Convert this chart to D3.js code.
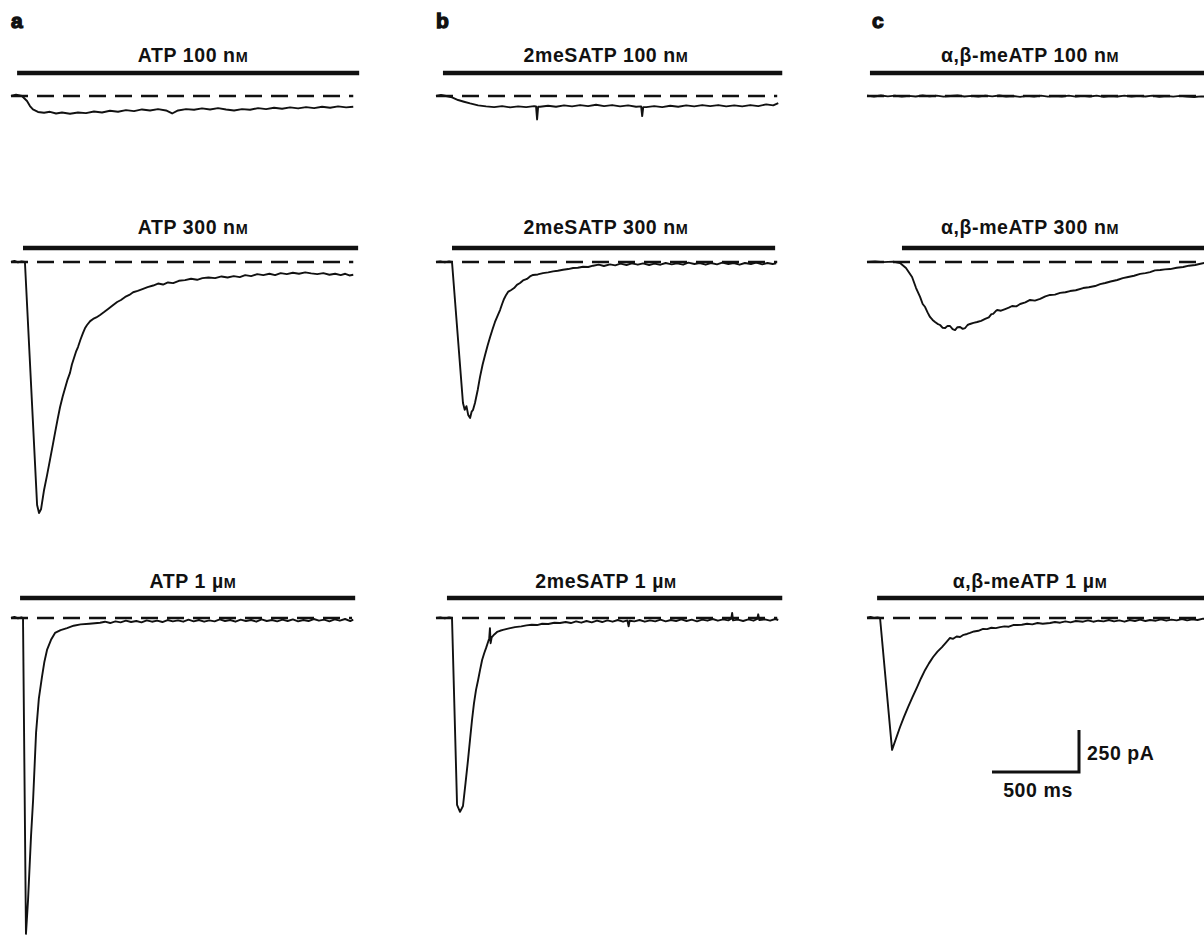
<!DOCTYPE html>
<html>
<head>
<meta charset="utf-8">
<script src="https://cdn.jsdelivr.net/npm/d3@7"></script>
<style>
  body { margin: 0; background: #fff; }
  svg { display: block; }
  .lbl { font-family: "Liberation Sans", Arial, sans-serif; font-weight: bold; font-size: 19.5px; letter-spacing: 0.6px; fill: #111; }
  .letter { font-family: "Liberation Sans", Arial, sans-serif; font-weight: bold; font-size: 21px; fill: #111; stroke: #111; stroke-width: 1.3px; }
  .trace { fill: none; stroke: #111; stroke-width: 1.9; stroke-linejoin: round; }
  .appl { stroke: #111; stroke-width: 4.6; }
  .base { stroke: #111; stroke-width: 2.6; stroke-dasharray: 17 9; }
  .sbar { stroke: #111; stroke-width: 3; fill: none; }
</style>
</head>
<body>
<svg id="fig" width="1204" height="936"></svg>
<script>
// current traces: [time ms, current pA], inward current negative
var atp100 = [[0,0],[29,8],[63,0],[92,-30],[109,-60],[126,-80],[155,-95],[190,-100],[224,-94],[259,-104],[293,-98],[339,-106],[385,-98],[431,-102],[477,-92],[523,-98],[569,-88],[615,-94],[661,-84],[707,-90],[753,-80],[799,-86],[845,-78],[891,-86],[926,-104],[960,-86],[1006,-78],[1052,-82],[1098,-74],[1144,-80],[1190,-72],[1236,-80],[1282,-86],[1328,-78],[1374,-82],[1420,-72],[1466,-78],[1512,-70],[1558,-76],[1604,-68],[1650,-74],[1696,-66],[1742,-72],[1788,-64],[1834,-70],[1880,-62],[1926,-68],[1967,-64]];
var atp300 = [[0,0],[20,6],[40,-2],[60,4],[80,0],[150,-1446],[161,-1494],[173,-1470],[190,-1357],[207,-1270],[224,-1178],[240,-1090],[253,-1017],[268,-935],[282,-863],[297,-800],[311,-750],[325,-700],[339,-660],[350,-610],[362,-571],[375,-530],[385,-506],[400,-460],[414,-422],[425,-395],[437,-375],[455,-352],[472,-339],[490,-330],[512,-315],[535,-298],[558,-280],[580,-262],[610,-238],[632,-226],[656,-208],[680,-196],[702,-180],[728,-172],[759,-160],[785,-150],[817,-140],[845,-128],[874,-134],[902,-122],[932,-126],[965,-112],[1000,-108],[1035,-100],[1070,-106],[1100,-96],[1135,-92],[1173,-96],[1210,-86],[1245,-92],[1280,-84],[1315,-90],[1346,-78],[1380,-84],[1415,-72],[1450,-78],[1485,-70],[1518,-78],[1550,-66],[1585,-72],[1620,-64],[1655,-70],[1691,-62],[1725,-68],[1760,-72],[1795,-66],[1830,-76],[1863,-70],[1895,-78],[1921,-70],[1945,-80],[1967,-76]];
var atp1 = [[0,0],[20,6],[40,-2],[60,4],[69,0],[86,-1880],[98,-1678],[115,-1300],[127,-1083],[144,-684],[160,-480],[178,-351],[192,-260],[207,-190],[230,-130],[253,-89],[285,-72],[322,-60],[360,-46],[400,-38],[450,-34],[512,-28],[540,-22],[570,-30],[600,-20],[630,-26],[660,-16],[690,-24],[720,-18],[750,-26],[780,-14],[810,-22],[840,-16],[870,-24],[900,-12],[930,-20],[960,-14],[990,-22],[1020,-10],[1050,-20],[1080,-12],[1110,-22],[1140,-14],[1170,-20],[1200,-8],[1230,-18],[1260,-12],[1290,-22],[1320,-10],[1350,-18],[1380,-12],[1410,-22],[1440,-8],[1470,-18],[1500,-12],[1530,-20],[1560,-10],[1590,-18],[1620,-8],[1650,-20],[1680,-12],[1710,-18],[1740,-6],[1770,-16],[1800,-10],[1830,-20],[1860,-8],[1890,-16],[1920,-6],[1950,-18],[1967,-10]];

var sat100 = [[0,0],[29,6],[58,0],[92,-8],[127,-24],[161,-34],[196,-44],[242,-56],[288,-62],[334,-66],[380,-60],[426,-68],[472,-62],[518,-66],[564,-60],[575,-62],[581,-140],[587,-64],[598,-64],[644,-58],[690,-64],[736,-56],[782,-62],[828,-54],[874,-60],[920,-52],[966,-60],[1012,-54],[1058,-62],[1104,-56],[1150,-64],[1179,-62],[1185,-120],[1191,-66],[1208,-66],[1254,-60],[1300,-66],[1346,-58],[1392,-64],[1438,-56],[1484,-62],[1530,-54],[1576,-60],[1622,-54],[1668,-62],[1714,-56],[1760,-62],[1806,-54],[1852,-60],[1898,-50],[1938,-56],[1967,-42]];
var sat300 = [[0,0],[25,4],[50,-2],[75,3],[92,0],[155,-839],[165,-880],[175,-858],[185,-910],[196,-928],[205,-890],[213,-880],[224,-839],[240,-760],[253,-684],[268,-610],[282,-553],[297,-495],[311,-446],[325,-400],[339,-357],[355,-318],[368,-286],[380,-250],[391,-220],[403,-196],[414,-178],[430,-168],[449,-155],[465,-136],[483,-125],[500,-110],[523,-101],[540,-86],[558,-77],[585,-74],[615,-66],[645,-62],[673,-56],[700,-52],[730,-46],[760,-42],[788,-36],[815,-34],[845,-28],[875,-30],[903,-22],[935,-16],[965,-24],[1000,-14],[1030,-20],[1060,-10],[1095,-18],[1125,-8],[1160,-16],[1190,-8],[1225,-18],[1255,-10],[1290,-16],[1320,-6],[1355,-14],[1385,-8],[1420,-16],[1450,-4],[1485,-12],[1515,-6],[1550,-16],[1580,-6],[1615,-14],[1645,-4],[1680,-12],[1710,-6],[1745,-16],[1775,-6],[1810,-12],[1840,-4],[1875,-14],[1905,-6],[1935,-12],[1955,-8]];
var sat1 = [[0,0],[25,4],[50,-2],[75,3],[92,0],[121,-1113],[138,-1154],[155,-1119],[170,-980],[184,-845],[196,-720],[207,-607],[218,-510],[230,-428],[242,-369],[253,-310],[265,-250],[277,-210],[288,-178],[300,-140],[306,-120],[310,-60],[314,-150],[320,-115],[335,-98],[351,-83],[368,-76],[385,-71],[420,-62],[454,-54],[490,-50],[520,-44],[550,-40],[581,-42],[610,-34],[645,-36],[680,-28],[713,-30],[745,-24],[775,-30],[805,-20],[835,-28],[865,-18],[895,-26],[925,-16],[955,-24],[985,-14],[1015,-22],[1045,-12],[1075,-22],[1100,-14],[1107,-50],[1113,-16],[1140,-20],[1170,-12],[1200,-22],[1230,-14],[1260,-20],[1290,-10],[1320,-20],[1350,-12],[1380,-18],[1410,-8],[1440,-18],[1470,-10],[1500,-20],[1530,-10],[1560,-16],[1590,-6],[1620,-16],[1650,-8],[1680,-14],[1697,-4],[1702,30],[1707,-14],[1735,-10],[1765,-18],[1795,-8],[1825,-16],[1846,-6],[1852,22],[1858,-12],[1890,-8],[1920,-16],[1950,-6],[1967,-12]];

var abm100 = [[0,2],[40,-3],[80,3],[120,-2],[160,2],[200,-4],[240,1],[280,-3],[320,3],[360,-2],[400,2],[440,-4],[480,0],[520,3],[560,-3],[600,1],[640,-4],[680,2],[720,-2],[760,3],[800,-3],[840,0],[880,-5],[920,1],[960,-3],[1000,2],[1040,-4],[1080,0],[1120,-3],[1160,2],[1200,-4],[1240,1],[1280,-3],[1320,2],[1360,-5],[1400,0],[1440,-3],[1480,2],[1520,-4],[1560,1],[1600,-3],[1640,2],[1680,-5],[1720,0],[1760,-4],[1800,1],[1840,-3],[1880,-6],[1920,-2],[1960,-5],[2000,-2]];
var abm300 = [[0,0],[46,4],[92,-1],[150,2],[190,-6],[224,-36],[259,-89],[282,-155],[305,-208],[320,-250],[334,-268],[348,-300],[362,-327],[377,-345],[391,-357],[405,-368],[420,-375],[435,-392],[449,-393],[463,-380],[477,-381],[492,-400],[506,-405],[520,-388],[535,-387],[550,-398],[564,-393],[578,-375],[592,-369],[612,-362],[633,-357],[656,-350],[679,-339],[700,-330],[715,-310],[725,-309],[740,-292],[748,-286],[770,-290],[794,-280],[815,-272],[834,-262],[858,-264],[880,-250],[910,-240],[937,-226],[965,-230],[995,-220],[1025,-205],[1052,-196],[1080,-194],[1110,-184],[1140,-180],[1167,-173],[1200,-168],[1242,-155],[1275,-150],[1311,-143],[1340,-132],[1369,-125],[1400,-116],[1438,-107],[1470,-96],[1501,-89],[1535,-82],[1570,-71],[1600,-66],[1627,-60],[1655,-50],[1685,-48],[1712,-44],[1742,-42],[1780,-34],[1817,-30],[1850,-22],[1886,-18],[1910,-12],[1938,-6],[1970,-8],[2000,-4]];
var abm1 = [[0,2],[20,6],[40,0],[60,3],[75,0],[144,-785],[190,-649],[212,-590],[236,-530],[262,-470],[288,-411],[310,-360],[334,-309],[356,-270],[380,-232],[405,-200],[431,-173],[455,-145],[477,-119],[495,-124],[515,-110],[535,-113],[555,-100],[575,-95],[592,-89],[615,-80],[640,-76],[667,-65],[690,-66],[715,-58],[740,-60],[765,-54],[790,-50],[815,-52],[840,-42],[863,-42],[890,-40],[920,-34],[950,-38],[980,-30],[1010,-34],[1052,-30],[1080,-24],[1110,-28],[1140,-20],[1170,-26],[1200,-18],[1242,-22],[1270,-14],[1300,-22],[1330,-16],[1360,-20],[1390,-12],[1420,-20],[1450,-14],[1480,-22],[1510,-12],[1540,-18],[1570,-10],[1600,-18],[1627,-12],[1660,-16],[1690,-8],[1720,-16],[1750,-10],[1780,-14],[1810,-6],[1840,-14],[1870,-8],[1900,-12],[1932,-4],[1960,-10],[2000,-6]];

var letters = ["a", "b", "c"];
var agonists = ["ATP", "2meSATP", "α,β-meATP"];
var concValues = ["100", "300", "1"];
var concPrefix = ["n", "n", "µ"];
// agonist application (ms): start and end, per column then row
var applOn = [[35, 69, 52], [40, 92, 63], [17, 201, 58]];
var applOff = [[2001, 1995, 1978], [1990, 1949, 1990], [2200, 2200, 2200]];
var baseEnd = [[1967, 1967, 1960], [1961, 1961, 1961], [2200, 2200, 2200]];
var scaleMs = 500, scalePA = 250;

var traces = [[atp100, atp300, atp1], [sat100, sat300, sat1], [abm100, abm300, abm1]];

// layout
var colX0 = [11, 436, 867];
var titleX = [193, 606, 1030];
var rowBase = [96, 262, 618];
var rowBar = [73, 248, 598];
var rowTitle = [62, 234, 588];

var svg = d3.select("#fig");

function xScaleFor(c){
  return d3.scaleLinear().domain([0, 2000]).range([colX0[c], colX0[c] + 348]);
}
function yScaleFor(r){
  return d3.scaleLinear().domain([0, -2000]).range([rowBase[r], rowBase[r] + 336]);
}

letters.forEach(function(l, c){
  svg.append("text").attr("class", "letter")
    .attr("x", colX0[c] + (c == 2 ? 5 : 0)).attr("y", 28).text(l);
});

for (var c = 0; c < 3; c++){
  var x = xScaleFor(c);
  for (var r = 0; r < 3; r++){
    var y = yScaleFor(r);
    var g = svg.append("g");

    var t = g.append("text").attr("class", "lbl")
      .attr("x", titleX[c]).attr("y", rowTitle[r])
      .attr("text-anchor", "middle");
    t.append("tspan").text(agonists[c] + " " + concValues[r] + " " + concPrefix[r]);
    t.append("tspan").attr("font-size", "0.74em").text("M");

    g.append("line").attr("class", "appl")
      .attr("x1", x(applOn[c][r])).attr("x2", x(applOff[c][r]))
      .attr("y1", rowBar[r]).attr("y2", rowBar[r]);

    g.append("line").attr("class", "base")
      .attr("x1", x(0)).attr("x2", x(baseEnd[c][r]))
      .attr("y1", y(0)).attr("y2", y(0));

    var line = d3.line()
      .x(function(d){ return x(d[0]); })
      .y(function(d){ return y(d[1]); });

    g.append("path").attr("class", "trace")
      .attr("d", line(traces[c][r]));
  }
}

// scale bar
var sx = xScaleFor(2), sy = yScaleFor(2);
var cornerX = 1079, cornerY = 772;
var w = sx(scaleMs) - sx(0), h = sy(-scalePA) - sy(0);
svg.append("path").attr("class", "sbar")
  .attr("d", "M" + (cornerX - w) + "," + cornerY + "H" + cornerX + "V" + (cornerY - h));
svg.append("text").attr("class", "lbl")
  .attr("x", cornerX + 8).attr("y", 760).text(scalePA + " pA");
svg.append("text").attr("class", "lbl")
  .attr("x", 1038).attr("y", 797).attr("text-anchor", "middle").text(scaleMs + " ms");
</script>
</body>
</html>
